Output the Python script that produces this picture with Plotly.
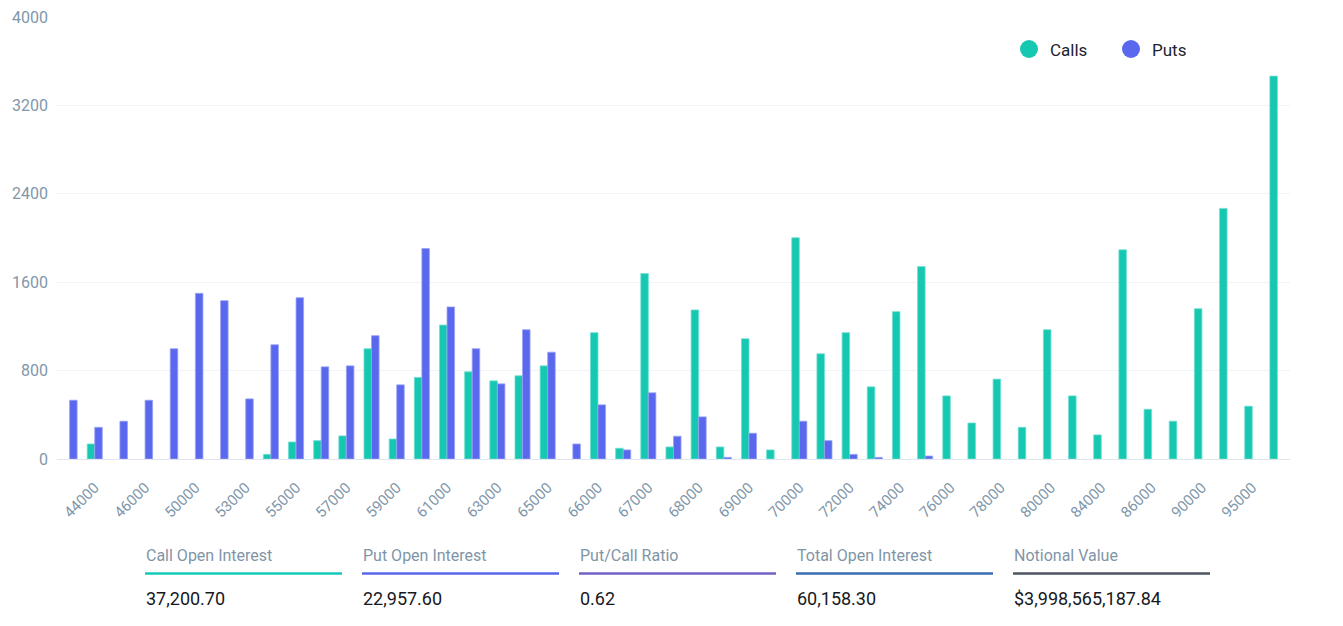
import plotly.graph_objects as go

strikes = ["42000", "44000", "45000", "46000", "48000", "50000", "52000", "53000", "54000", "55000",
           "56000", "57000", "58000", "59000", "60000", "61000", "62000", "63000", "64000", "65000",
           "65500", "66000", "66500", "67000", "67500", "68000", "68500", "69000", "69500", "70000",
           "71000", "72000", "73000", "74000", "75000", "76000", "77000", "78000", "79000", "80000",
           "82000", "84000", "85000", "86000", "88000", "90000", "92000", "95000", "100000"]

calls = [0, 136, 0, 0, 0, 0, 0, 0, 42, 154,
         166, 209, 998, 181, 738, 1212, 789, 707, 753, 843,
         0, 1143, 97, 1678, 109, 1349, 109, 1088, 82, 2002,
         952, 1143, 653, 1333, 1741, 571, 326, 723, 287, 1170,
         571, 218, 1893, 450, 342, 1360, 2268, 478, 3465]

puts = [532, 287, 342, 532, 998, 1499, 1433, 544, 1034, 1460,
        834, 843, 1116, 671, 1905, 1376, 998, 680, 1170, 967,
        136, 490, 82, 599, 206, 381, 15, 233, 0, 342,
        166, 42, 15, 0, 27, 0, 0, 0, 0, 0,
        0, 0, 0, 0, 0, 0, 0, 0, 0]

tick_labels = ["44000", "46000", "50000", "53000", "55000", "57000", "59000", "61000", "63000", "65000",
               "66000", "67000", "68000", "69000", "70000", "72000", "74000", "76000", "78000", "80000",
               "84000", "86000", "90000", "95000"]

series_names = ["Calls", "Puts"]
series_colors = ["#16c8b1", "#5a68ee"]
series_edge = ["#6fded0", "#9aa2f5"]

stat_titles = ["Call Open Interest", "Put Open Interest", "Put/Call Ratio", "Total Open Interest", "Notional Value"]
stat_values = ["37,200.70", "22,957.60", "0.62", "60,158.30", "$3,998,565,187.84"]
stat_colors = ["#13c9b8", "#5b67ea", "#6f62c9", "#3b6db4", "#4d5560"]

W, H = 1343, 626
L, R, T, B = 57, 53, 17, 167
PW, PH = W - L - R, H - T - B


def px(x):
    return (x - L) / PW


def py(y):
    return (H - B - y) / PH


fig = go.Figure()
for name, vals, col, edge in zip(series_names, [calls, puts], series_colors, series_edge):
    fig.add_trace(go.Bar(
        x=strikes, y=[v if v else None for v in vals], name=name, showlegend=False,
        marker=dict(color=col, line=dict(color=edge, width=0.8)),
        hoverinfo="x+y+name",
    ))

shapes = []
annotations = []

# legend
leg_x = [1029, 1131]
for i, (name, col) in enumerate(zip(series_names, series_colors)):
    cx, cy, r = leg_x[i], 49, 9
    shapes.append(dict(type="circle", xref="paper", yref="paper",
                       x0=px(cx - r), x1=px(cx + r), y0=py(cy + r), y1=py(cy - r),
                       fillcolor=col, line=dict(width=0)))
    annotations.append(dict(text=name, xref="paper", yref="paper", x=px(cx + 19), y=py(cy + 1),
                            xanchor="left", yanchor="middle", showarrow=False,
                            font=dict(family="Roboto", size=17, color="#1d2330")))

# stats
for i, (t, v, c) in enumerate(zip(stat_titles, stat_values, stat_colors)):
    x0 = 145 + i * 217
    annotations.append(dict(text=t, xref="paper", yref="paper", x=px(x0 - 1), y=py(555),
                            xanchor="left", yanchor="middle", showarrow=False,
                            font=dict(family="Roboto", size=16, color="#7f95a7")))
    annotations.append(dict(text=v, xref="paper", yref="paper", x=px(x0 - 1), y=py(598),
                            xanchor="left", yanchor="middle", showarrow=False,
                            font=dict(family="Roboto", size=18, color="#16181d")))
    shapes.append(dict(type="line", xref="paper", yref="paper",
                       x0=px(x0), x1=px(x0 + 197), y0=py(573.5), y1=py(573.5),
                       line=dict(color=c, width=2.5)))

fig.update_layout(
    width=W, height=H, autosize=False,
    margin=dict(l=L, r=R, t=T, b=B, pad=0, autoexpand=False),
    paper_bgcolor="white", plot_bgcolor="white",
    barmode="group", bargap=0.4, bargroupgap=0,
    font=dict(family="Roboto", color="#8197a9"),
    shapes=shapes, annotations=annotations,
    xaxis=dict(type="category", categoryorder="array", categoryarray=strikes,
               range=[-0.5, len(strikes) - 0.5], automargin=False,
               tickmode="array", tickvals=tick_labels, ticktext=tick_labels,
               tickangle=-45, tickfont=dict(family="Roboto", size=15, color="#7f97aa"),
               showline=True, linecolor="#e1e6ee", linewidth=1,
               showgrid=False, ticks="", ticklabelstandoff=13),
    yaxis=dict(range=[0, 4000], dtick=800, tick0=0, automargin=False,
               tickfont=dict(family="Roboto", size=16, color="#8197a9"),
               showgrid=True, gridcolor="#f0f3f7", gridwidth=1,
               zeroline=False, ticks="", ticklabelstandoff=8),
)

fig.write_html("out.html", config={"displayModeBar": False},
               post_script="document.body.style.margin='0';document.body.style.overflow='hidden';")
